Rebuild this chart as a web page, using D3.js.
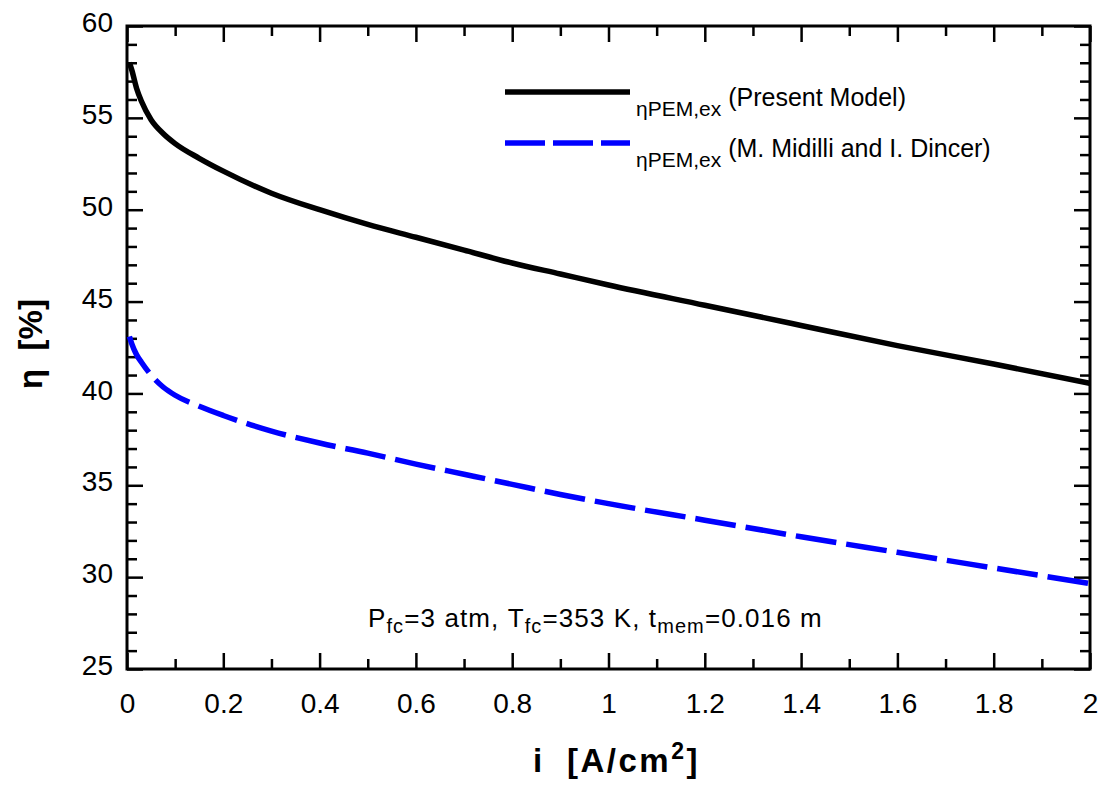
<!DOCTYPE html>
<html>
<head>
<meta charset="utf-8">
<script src="https://cdn.jsdelivr.net/npm/d3@7"></script>
<style>
  html, body { margin: 0; padding: 0; background: #fff; }
  svg { display: block; font-family: "Liberation Sans", Arial, sans-serif; }
</style>
</head>
<body>
<svg id="chart" width="1104" height="789"></svg>
<script>
// Current density i [A/cm2]
const currentDensity = [0.005, 0.01, 0.02, 0.03, 0.05, 0.075, 0.1, 0.15, 0.2, 0.3, 0.4, 0.5,
                        0.6, 0.7, 0.8, 0.9, 1.0, 1.2, 1.4, 1.6, 1.8, 2.0];
// Exergy efficiency, present model [%]
const etaPresent = [58.0, 57.6, 56.6, 55.9, 54.9, 54.15, 53.6, 52.8, 52.1, 50.9, 50.0, 49.2,
                    48.5, 47.8, 47.1, 46.5, 45.9, 44.8, 43.7, 42.6, 41.6, 40.55];
// Exergy efficiency, M. Midilli and I. Dincer [%]
const etaMidilli = [43.1, 42.7, 42.1, 41.7, 41.0, 40.35, 39.9, 39.3, 38.8, 37.95, 37.3, 36.75,
                    36.15, 35.6, 35.05, 34.5, 34.0, 33.1, 32.2, 31.35, 30.5, 29.65];

const xTickValues = [0, 0.2, 0.4, 0.6, 0.8, 1, 1.2, 1.4, 1.6, 1.8, 2];
const xTickLabels = ["0", "0.2", "0.4", "0.6", "0.8", "1", "1.2", "1.4", "1.6", "1.8", "2"];
const xMinorTicks = [0.1, 0.3, 0.5, 0.7, 0.9, 1.1, 1.3, 1.5, 1.7, 1.9];
const yTickValues = [25, 30, 35, 40, 45, 50, 55, 60];
const yTickLabels = ["25", "30", "35", "40", "45", "50", "55", "60"];
const yMinorTicks = d3.range(26, 60).filter(v => v % 5 !== 0);

const svg = d3.select("#chart");
const plotLeft = 127, plotRight = 1090, plotTop = 26, plotBottom = 669;

const x = d3.scaleLinear().domain([0, 2]).range([plotLeft, plotRight]);
const y = d3.scaleLinear().domain([25, 60]).range([plotBottom, plotTop]);

const majorLen = 16, minorLen = 10;
const tickFont = 28;
const NBSP = "\u00a0";

function styleAxis(g) {
  g.select(".domain").remove();
  g.selectAll(".tick line").attr("stroke", "#000").attr("stroke-width", 2.5);
  g.selectAll("text").attr("font-size", tickFont).attr("fill", "#000")
    .attr("font-family", "'Liberation Sans', Arial, sans-serif");
}

// bottom axis
svg.append("g").attr("transform", `translate(0,${plotBottom})`)
  .call(d3.axisBottom(x).tickValues(xTickValues).tickSize(-majorLen).tickPadding(24)
    .tickFormat((d, i) => xTickLabels[i]))
  .call(styleAxis);
svg.append("g").attr("transform", `translate(0,${plotBottom})`)
  .call(d3.axisBottom(x).tickValues(xMinorTicks).tickSize(-minorLen).tickFormat(""))
  .call(styleAxis);
// top axis
svg.append("g").attr("transform", `translate(0,${plotTop})`)
  .call(d3.axisTop(x).tickValues(xTickValues).tickSize(-majorLen).tickFormat(""))
  .call(styleAxis);
svg.append("g").attr("transform", `translate(0,${plotTop})`)
  .call(d3.axisTop(x).tickValues(xMinorTicks).tickSize(-minorLen).tickFormat(""))
  .call(styleAxis);
// left axis
svg.append("g").attr("transform", `translate(${plotLeft},0)`)
  .call(d3.axisLeft(y).tickValues(yTickValues).tickSize(-majorLen).tickPadding(14)
    .tickFormat((d, i) => yTickLabels[i]))
  .call(styleAxis)
  .call(g => g.selectAll("text").attr("dy", "0.2em"));
svg.append("g").attr("transform", `translate(${plotLeft},0)`)
  .call(d3.axisLeft(y).tickValues(yMinorTicks).tickSize(-minorLen).tickFormat(""))
  .call(styleAxis);
// right axis
svg.append("g").attr("transform", `translate(${plotRight},0)`)
  .call(d3.axisRight(y).tickValues(yTickValues).tickSize(-majorLen).tickFormat(""))
  .call(styleAxis);
svg.append("g").attr("transform", `translate(${plotRight},0)`)
  .call(d3.axisRight(y).tickValues(yMinorTicks).tickSize(-minorLen).tickFormat(""))
  .call(styleAxis);

// plot frame
svg.append("rect")
  .attr("x", plotLeft).attr("y", plotTop)
  .attr("width", plotRight - plotLeft).attr("height", plotBottom - plotTop)
  .attr("fill", "none").attr("stroke", "#000").attr("stroke-width", 3);

// curves
const line = d3.line().curve(d3.curveMonotoneX)
  .x(d => x(d[0])).y(d => y(d[1]));

svg.append("path")
  .datum(currentDensity.map((v, i) => [v, etaPresent[i]]))
  .attr("d", line)
  .attr("fill", "none").attr("stroke", "#000").attr("stroke-width", 5.5);

svg.append("path")
  .datum(currentDensity.map((v, i) => [v, etaMidilli[i]]))
  .attr("d", line)
  .attr("fill", "none").attr("stroke", "#0000ff").attr("stroke-width", 5.5)
  .attr("stroke-dasharray", "41,10");

// legend
const legend = svg.append("g");
const legendRows = [
  { label: "(Present Model)", color: "#000", dash: null, ly: 92 },
  { label: "(M. Midilli and I. Dincer)", color: "#0000ff", dash: "40,8", ly: 143 }
];
legendRows.forEach(r => {
  legend.append("line")
    .attr("x1", 505).attr("x2", 630).attr("y1", r.ly).attr("y2", r.ly)
    .attr("stroke", r.color).attr("stroke-width", 5.5)
    .attr("stroke-dasharray", r.dash);
  const t = legend.append("text")
    .attr("x", 636).attr("y", r.ly + 14)
    .attr("fill", "#000");
  t.append("tspan").attr("font-size", 21).attr("dy", 10).text("ηPEM,ex");
  t.append("tspan").attr("font-size", 25).attr("dy", -10).text(NBSP + r.label);
});

// operating conditions note
const note = svg.append("text").attr("x", 368).attr("y", 627).attr("fill", "#000")
  .attr("font-size", 26).attr("letter-spacing", 1.1);
const noteParts = [
  ["P", 0], ["fc", 1], ["=3 atm, T", 0], ["fc", 1], ["=353 K, t", 0], ["mem", 1], ["=0.016 m", 0]
];
let lowered = false;
noteParts.forEach(([s, sub]) => {
  const ts = note.append("tspan").text(s.replace(/ /g, NBSP));
  if (sub) { ts.attr("font-size", 20).attr("dy", 6); lowered = true; }
  else if (lowered) { ts.attr("dy", -6); lowered = false; }
});

// axis titles
const xt = svg.append("text").attr("y", 772)
  .attr("font-weight", "bold").attr("font-size", 33)
  .attr("letter-spacing", 2.5).attr("fill", "#000");
xt.append("tspan").attr("x", 533).text("i");
xt.append("tspan").attr("x", 567).text("[A/cm");
xt.append("tspan").attr("font-size", 23).attr("dy", -13).text("2");
xt.append("tspan").attr("dy", 13).text("]");

svg.append("text")
  .attr("transform", "translate(42,344) rotate(-90)")
  .attr("text-anchor", "middle").attr("font-weight", "bold").attr("font-size", 33)
  .attr("fill", "#000")
  .text("η" + NBSP + NBSP + "[%]");
</script>
</body>
</html>
